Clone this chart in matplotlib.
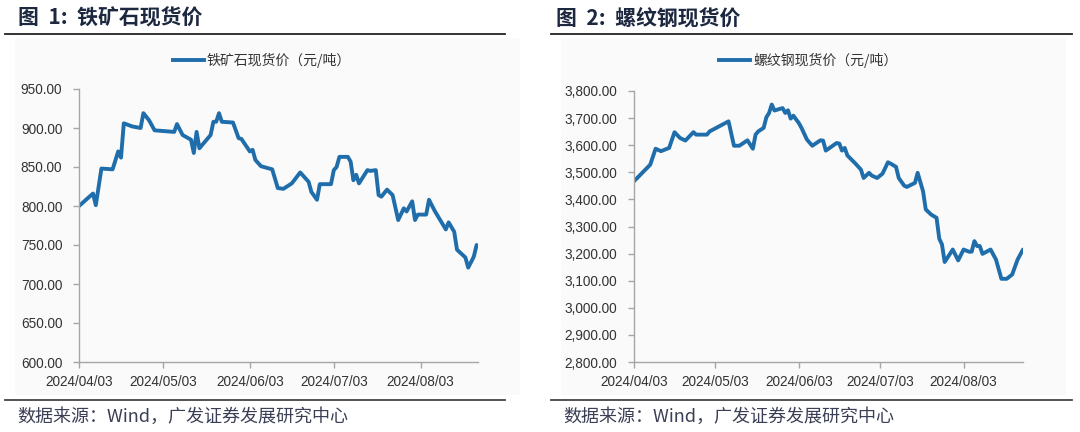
import matplotlib
matplotlib.use("Agg")
import matplotlib.pyplot as plt
import matplotlib.dates as mdates
from matplotlib.ticker import FuncFormatter, MultipleLocator
from matplotlib.lines import Line2D
from matplotlib.patches import Rectangle
import pandas as pd

# ---------------- data ----------------
ore_dates = ["2024-04-03", "2024-04-08", "2024-04-09", "2024-04-11", "2024-04-15", "2024-04-17",
             "2024-04-18", "2024-04-19", "2024-04-22", "2024-04-25", "2024-04-26", "2024-04-28",
             "2024-04-30", "2024-05-07", "2024-05-08", "2024-05-10", "2024-05-13", "2024-05-14",
             "2024-05-15", "2024-05-16", "2024-05-20", "2024-05-21", "2024-05-22", "2024-05-23",
             "2024-05-24", "2024-05-28", "2024-05-30", "2024-05-31", "2024-06-03", "2024-06-04",
             "2024-06-05", "2024-06-07", "2024-06-11", "2024-06-13", "2024-06-15", "2024-06-18",
             "2024-06-21", "2024-06-24", "2024-06-25", "2024-06-27", "2024-06-28", "2024-07-02",
             "2024-07-03", "2024-07-04", "2024-07-05", "2024-07-08", "2024-07-09", "2024-07-10",
             "2024-07-11", "2024-07-12", "2024-07-15", "2024-07-16", "2024-07-18", "2024-07-19",
             "2024-07-20", "2024-07-22", "2024-07-24", "2024-07-26", "2024-07-28", "2024-07-29",
             "2024-07-31", "2024-08-01", "2024-08-02", "2024-08-05", "2024-08-06", "2024-08-08",
             "2024-08-12", "2024-08-13", "2024-08-15", "2024-08-16", "2024-08-19", "2024-08-20",
             "2024-08-22", "2024-08-23"]
ore_values = [800, 816, 801, 848, 847, 870, 862, 906, 902, 900, 919, 910,
              897, 895, 905, 891, 885, 868, 895, 874, 891, 908, 908, 919,
              908, 907, 887, 886, 870, 872, 859, 851, 847, 823, 822, 829,
              843, 831, 818, 808, 828, 828, 846, 850, 863, 863, 857, 833,
              840, 829, 846, 845, 846, 814, 812, 821, 814, 782, 797, 793,
              806, 782, 789, 789, 808, 794, 770, 779, 767, 744, 734, 721,
              735, 750]

rebar_dates = ["2024-04-03", "2024-04-09", "2024-04-11", "2024-04-13", "2024-04-16", "2024-04-18",
               "2024-04-20", "2024-04-22", "2024-04-25", "2024-04-26", "2024-04-30", "2024-05-01",
               "2024-05-08", "2024-05-10", "2024-05-12", "2024-05-15", "2024-05-17", "2024-05-18",
               "2024-05-19", "2024-05-21", "2024-05-22", "2024-05-23", "2024-05-24", "2024-05-25",
               "2024-05-28", "2024-05-29", "2024-05-30", "2024-05-31", "2024-06-01", "2024-06-03",
               "2024-06-04", "2024-06-06", "2024-06-08", "2024-06-11", "2024-06-12", "2024-06-13",
               "2024-06-17", "2024-06-18", "2024-06-19", "2024-06-20", "2024-06-21", "2024-06-24",
               "2024-06-26", "2024-06-27", "2024-06-29", "2024-06-30", "2024-07-02", "2024-07-04",
               "2024-07-06", "2024-07-07", "2024-07-09", "2024-07-10", "2024-07-12", "2024-07-13",
               "2024-07-16", "2024-07-17", "2024-07-19", "2024-07-20", "2024-07-22", "2024-07-24",
               "2024-07-25", "2024-07-26", "2024-07-27", "2024-07-30", "2024-08-01", "2024-08-03",
               "2024-08-05", "2024-08-06", "2024-08-07", "2024-08-08", "2024-08-09", "2024-08-10",
               "2024-08-13", "2024-08-15", "2024-08-17", "2024-08-19", "2024-08-21", "2024-08-23",
               "2024-08-25"]
rebar_values = [3467, 3528, 3587, 3578, 3590, 3648, 3627, 3617, 3648, 3639, 3639, 3651,
                3688, 3598, 3598, 3618, 3587, 3639, 3651, 3664, 3703, 3719, 3750, 3728,
                3737, 3719, 3729, 3698, 3709, 3682, 3664, 3621, 3598, 3618, 3617, 3580,
                3608, 3606, 3580, 3590, 3562, 3532, 3510, 3479, 3498, 3488, 3479, 3495,
                3537, 3532, 3520, 3479, 3451, 3446, 3461, 3498, 3430, 3363, 3344, 3332,
                3255, 3234, 3169, 3215, 3175, 3215, 3207, 3207, 3246, 3228, 3228, 3199,
                3215, 3178, 3107, 3107, 3123, 3178, 3215]

tick_dates = ["2024-04-03", "2024-05-03", "2024-06-03", "2024-07-03", "2024-08-03"]

titles = ["图  1:  铁矿石现货价", "图  2:  螺纹钢现货价"]
legend_labels = ["铁矿石现货价（元/吨）", "螺纹钢现货价（元/吨）"]
source_text = "数据来源：Wind，广发证券发展研究中心"

# ---------------- style ----------------
CJK = ["Noto Sans CJK SC", "DejaVu Sans"]
NUM = ["Liberation Sans", "DejaVu Sans"]
LINE_C = "#1f6eab"
AX_C = "#a6a6a6"
TXT_C = "#333333"
TITLE_C = "#1c2740"

fig = plt.figure(figsize=(10.8, 4.32), dpi=100)
W, H = 1080.0, 432.0

def fx(px):
    return px / W

def fy(py):
    return 1 - py / H

panels = [
    dict(x0=5, x1=505, tx=18, bg=(15, 520), ax=(79, 478), ylim=(600, 950), step=50,
         fmt="{:.2f}", dates=ore_dates, vals=ore_values, xend="2024-08-23 12:00",
         leg_x=173, src_x=17),
    dict(x0=551, x1=1072, tx=556, bg=(561, 1066), ax=(634, 1023), ylim=(2800, 3800), step=100,
         fmt="{:,.2f}", dates=rebar_dates, vals=rebar_values, xend="2024-08-25 00:00",
         leg_x=719, src_x=563),
]

for i, p in enumerate(panels):
    # light background panel
    fig.patches.append(Rectangle((fx(p["bg"][0]), fy(395)), fx(p["bg"][1] - p["bg"][0]),
                                 (395 - 38) / H, transform=fig.transFigure,
                                 facecolor="#fafafa", edgecolor="none", zorder=-5))
    # title
    fig.text(fx(p["tx"]), fy(18), titles[i], fontsize=15, fontweight="bold",
             family=CJK, color=TITLE_C, ha="left", va="center")
    # rules
    fig.add_artist(Line2D([fx(p["x0"]), fx(p["x1"])], [fy(34), fy(34)],
                          color="#222222", lw=1.3, transform=fig.transFigure))
    fig.add_artist(Line2D([fx(p["x0"]), fx(p["x1"])], [fy(400), fy(400)],
                          color="#444444", lw=1.3, transform=fig.transFigure))
    # source
    fig.text(fx(p["src_x"]), fy(417), source_text, fontsize=13, family=CJK,
             color="#3a3f55", ha="left", va="center")

    # axes
    ax_y0 = 362
    ax_y1 = 89 if i == 0 else 91
    ax = fig.add_axes([fx(p["ax"][0]), fy(ax_y0), fx(p["ax"][1] - p["ax"][0]),
                       (ax_y0 - ax_y1) / H])
    ax.set_zorder(2)
    ax.set_facecolor("none")
    d = pd.to_datetime(p["dates"])
    ax.plot(d, p["vals"], color=LINE_C, lw=2.8, solid_joinstyle="round",
            solid_capstyle="round")
    ax.set_ylim(*p["ylim"])
    ax.yaxis.set_major_locator(MultipleLocator(p["step"]))
    fmt = p["fmt"]
    ax.yaxis.set_major_formatter(FuncFormatter(lambda v, pos, fmt=fmt: fmt.format(v)))
    ax.set_xlim(pd.Timestamp(p["dates"][0]), pd.Timestamp(p["xend"]))
    ax.set_xticks(pd.to_datetime(tick_dates))
    ax.xaxis.set_major_formatter(mdates.DateFormatter("%Y/%m/%d"))
    for s in ["top", "right"]:
        ax.spines[s].set_visible(False)
    for s in ["left", "bottom"]:
        ax.spines[s].set_color(AX_C)
        ax.spines[s].set_linewidth(1.0)
    ax.tick_params(axis="both", colors=AX_C, length=4, width=1.0, direction="out",
                   labelcolor=TXT_C, labelsize=9.8)
    ax.tick_params(axis="y", pad=8)
    ax.tick_params(axis="x", pad=5)
    for lab in ax.get_xticklabels() + ax.get_yticklabels():
        lab.set_family(NUM)

    # legend (manual, centered above plot)
    ly = fy(60)
    fig.add_artist(Line2D([fx(p["leg_x"]), fx(p["leg_x"] + 31)], [ly, ly], color=LINE_C,
                          lw=2.8, transform=fig.transFigure))
    fig.text(fx(p["leg_x"] + 34), ly, legend_labels[i], fontsize=10, family=CJK,
             color=TXT_C, ha="left", va="center")

fig.savefig("out.png", dpi=100, facecolor="white")
